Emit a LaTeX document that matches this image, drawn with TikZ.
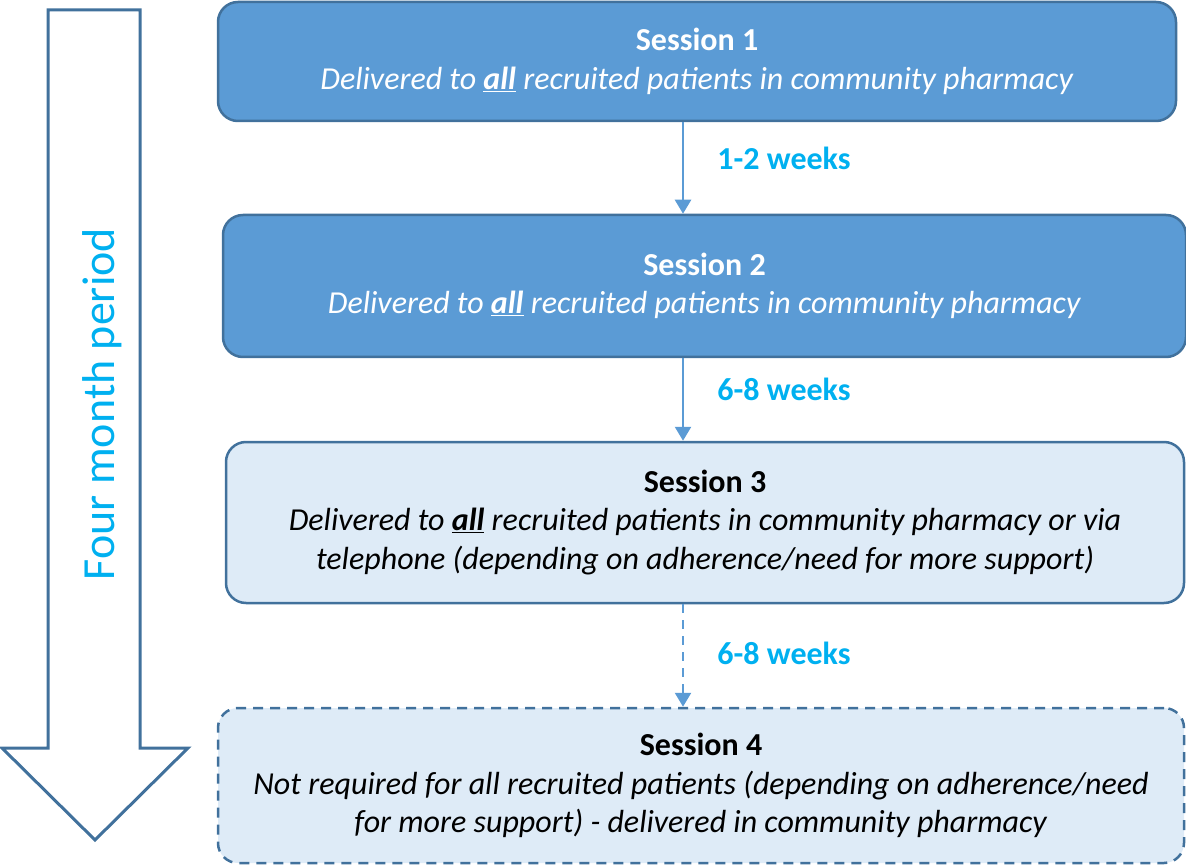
\documentclass[tikz,border=0pt]{standalone}
\usepackage{fontspec}
\setmainfont{Carlito}
\usetikzlibrary{arrows.meta}

\definecolor{darkblue}{HTML}{41719C}
\definecolor{midblue}{HTML}{5B9BD5}
\definecolor{paleblue}{HTML}{DEEBF7}
\definecolor{skyblue}{HTML}{00B0F0}

\begin{document}
\begin{tikzpicture}[x=1pt,y=-1pt,
    every node/.style={font=\fontsize{32}{38.5}\selectfont},
    box/.style={draw=darkblue,line width=2.5pt,rounded corners=20pt,align=center,inner sep=0pt},
    darkbox/.style={box,fill=midblue,text=white},
    lightbox/.style={box,fill=paleblue,text=black},
    link/.style={draw=midblue,line width=2.5pt,-{Triangle[length=14pt,width=16pt]}},
    gap/.style={text=skyblue,font=\fontsize{32}{36}\selectfont\bfseries}]

        \useasboundingbox (0,0) rectangle (1186,866);

        % time arrow
        \draw[darkblue,line width=3pt,fill=white,line join=miter]
            (48,10) -- (140,10) -- (140,748) -- (188,748) -- (95,840)
            -- (2,748) -- (48,748) -- cycle;
        \node[text=skyblue,rotate=90,font=\fontsize{46}{50}\selectfont] (period) at (102,404) {Four month period};

        % sessions
        \node[darkbox,minimum width=958pt,minimum height=119pt] (s1) at (697,61.5)
            {\textbf{Session 1}\\\textit{Delivered to \underline{\textbf{all}} recruited patients in community pharmacy}};
        \node[darkbox,minimum width=963pt,minimum height=142pt] (s2) at (704.5,286)
            {\textbf{Session 2}\\\textit{Delivered to \underline{\textbf{all}} recruited patients in community pharmacy}};
        \node[lightbox,minimum width=958pt,minimum height=161pt] (s3) at (705,522.5)
            {\textbf{Session 3}\\\textit{Delivered to \underline{\textbf{all}} recruited patients in community pharmacy or via}\\\textit{telephone (depending on adherence/need for more support)}};
        \node[lightbox,dashed,dash pattern=on 10pt off 7pt,minimum width=966pt,minimum height=155pt] (s4) at (701,785.5)
            {\textbf{Session 4}\\\textit{Not required for all recruited patients (depending on adherence/need}\\\textit{for more support) - delivered in community pharmacy}};

        % links
        \coordinate (ax) at (683,0);
        \draw[link] (s1.south -| ax) -- (s2.north -| ax);
        \draw[link] (s2.south -| ax) -- (s3.north -| ax);
        \draw[link,dashed,dash pattern=on 9pt off 7pt] (s3.south -| ax) -- (s4.north -| ax);

        \node[gap] (w1) at (784,158) {1-2 weeks};
        \node[gap] (w2) at (784,389) {6-8 weeks};
        \node[gap] (w3) at (784,653) {6-8 weeks};
\end{tikzpicture}
\end{document}
